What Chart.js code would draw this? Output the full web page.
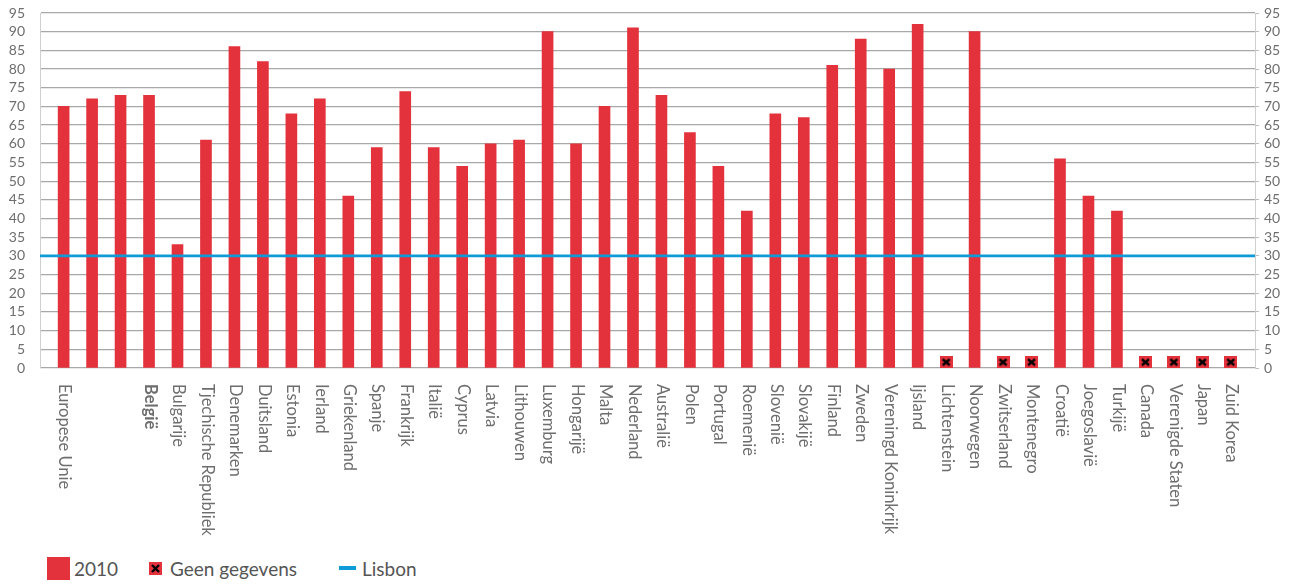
<!DOCTYPE html>
<html lang="nl">
<head>
<meta charset="UTF-8">
<script src="https://cdn.jsdelivr.net/npm/chart.js@4.4.1/dist/chart.umd.min.js"></script>
<title>Chart</title>
<style>
  body { margin: 0; background: #fff; font-family: Lato, sans-serif; }
  #wrap { position: relative; width: 1292px; height: 584px; }
  #box { position: absolute; left: 0; top: 0; width: 1292px; height: 550px; }
  .lg { position: absolute; top: 557px; height: 23px; line-height: 23px; font-size: 19px; color: #555; white-space: nowrap; }
</style>
</head>
<body>
<div id="wrap">
  <div id="box"><canvas id="myChart"></canvas></div>
  <div class="lg" style="left:47px;width:23px;background:#e4323c"></div>
  <div class="lg" style="left:74px">2010</div>
  <canvas id="lgX" class="lg" width="13" height="13" style="left:149px;top:562px;height:13px"></canvas>
  <div class="lg" style="left:170px">Geen gegevens</div>
  <div class="lg" style="left:339px;top:566px;width:17px;height:4px;background:#0e9ad7"></div>
  <div class="lg" style="left:362px">Lisbon</div>
</div>
<script>
// data
var countries = ['Europese Unie', '', '', 'België', 'Bulgarije', 'Tjechische Republiek', 'Denemarken', 'Duitsland',
  'Estonia', 'Ierland', 'Griekenland', 'Spanje', 'Frankrijk', 'Italië', 'Cyprus', 'Latvia', 'Lithouwen',
  'Luxemburg', 'Hongarijë', 'Malta', 'Nederland', 'Australië', 'Polen', 'Portugal', 'Roemenië', 'Slovenië',
  'Slovakijë', 'Finland', 'Zweden', 'Vereningd Koninkrijk', 'Ijsland', 'Lichtenstein', 'Noorwegen',
  'Zwitserland', 'Montenegro', 'Croatië', 'Joegoslavië', 'Turkijë', 'Canada', 'Verenigde Staten', 'Japan', 'Zuid Korea'];
var values2010 = [70, 72, 73, 73, 33, 61, 86, 82, 68, 72, 46, 59, 74, 59, 54, 60, 61, 90, 60, 70, 91, 73, 63, 54, 42,
  68, 67, 81, 88, 80, 92, null, 90, null, null, 56, 46, 42, null, null, null, null];
var lisbon = 30;
var yTicks = [0, 95, 5]; // min, max, step
var boldLabel = 'België';

var RED = '#e4323c', BLUE = '#0e9ad7', GRID = '#a8a8a8', TXT = '#6e6e6e';
var xMin = -0.83, xMax = countries.length - 1 + 0.85;

// marker for "geen gegevens"
function drawNoData(c) {
  var g = c.getContext('2d');
  g.fillStyle = RED;
  g.fillRect(0, 0, c.width, c.height);
  g.strokeStyle = '#000';
  g.lineWidth = 2.4;
  g.beginPath();
  g.moveTo(3, 3); g.lineTo(c.width - 3, c.height - 3);
  g.moveTo(c.width - 3, 3); g.lineTo(3, c.height - 3);
  g.stroke();
}
var noData = document.createElement('canvas');
noData.width = 13; noData.height = 12;
drawNoData(noData);
drawNoData(document.getElementById('lgX'));

// category labels, rotated top to bottom
var xLabels = {
  id: 'xLabels',
  afterDraw: function(chart) {
    var ctx = chart.ctx, xs = chart.scales.x, y0 = chart.chartArea.bottom + 16;
    ctx.save();
    ctx.fillStyle = TXT;
    ctx.textAlign = 'left';
    ctx.textBaseline = 'middle';
    countries.forEach(function(name, i) {
      ctx.save();
      ctx.translate(xs.getPixelForValue(i) + 1, y0);
      ctx.rotate(Math.PI / 2);
      ctx.font = (name === boldLabel ? 'bold ' : '') + '16.5px Lato';
      ctx.fillText(name, 0, 0);
      ctx.restore();
    });
    ctx.restore();
  }
};

function fitY(w) {
  return function(s) { s.width = w; s.paddingTop = 0; s.paddingBottom = 0; };
}

var ctx = document.getElementById('myChart').getContext('2d');
var chart = new Chart(ctx, {
  type: 'bar',
  data: {
    datasets: [{
      label: '2010',
      data: values2010.map(function(v, i) { return {x: i, y: v}; }),
      backgroundColor: RED,
      barThickness: 11,
      order: 3
    }, {
      type: 'line',
      label: 'Lisbon',
      data: [{x: xMin, y: lisbon}, {x: xMax, y: lisbon}],
      borderColor: BLUE,
      borderWidth: 2.6,
      pointRadius: 0,
      order: 2
    }, {
      type: 'line',
      label: 'Geen gegevens',
      data: values2010.map(function(v, i) { return v === null ? {x: i, y: 1.55} : null; }).filter(Boolean),
      showLine: false,
      pointStyle: noData,
      order: 1
    }]
  },
  options: {
    responsive: true,
    maintainAspectRatio: false,
    animation: false,
    layout: { padding: { top: 13 } },
    plugins: { legend: { display: false }, tooltip: { enabled: false } },
    scales: {
      x: {
        type: 'linear', min: xMin, max: xMax, offset: false,
        ticks: { display: false },
        grid: { display: false, offset: false },
        border: { display: false },
        afterFit: function(s) { s.height = 182; s.paddingTop = 0; }
      },
      y: {
        position: 'left', min: yTicks[0], max: yTicks[1],
        ticks: { stepSize: yTicks[2], autoSkip: false, padding: 15, color: TXT, font: { family: 'Lato', size: 14 } },
        grid: { color: GRID, lineWidth: 1.3, drawTicks: false },
        border: { color: '#cfcfcf', width: 1 },
        afterFit: fitY(40)
      },
      y2: {
        position: 'right', min: yTicks[0], max: yTicks[1],
        ticks: { stepSize: yTicks[2], autoSkip: false, padding: 5, color: TXT, font: { family: 'Lato', size: 14 } },
        grid: { drawOnChartArea: false, color: '#bdbdbd', tickLength: 4 },
        border: { color: '#cfcfcf', width: 1 },
        afterFit: fitY(37)
      }
    }
  },
  plugins: [xLabels]
});
</script>
</body>
</html>
